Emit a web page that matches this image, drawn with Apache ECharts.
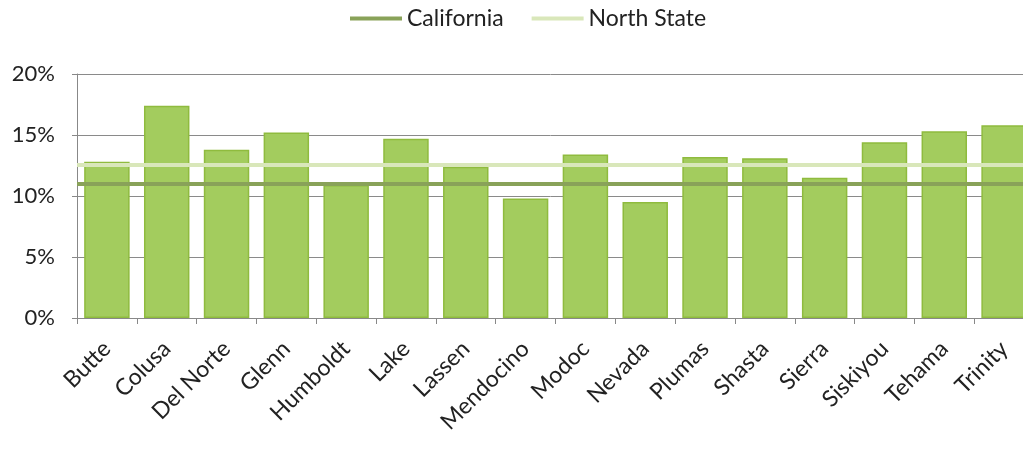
<!DOCTYPE html>
<html>
<head>
<meta charset="utf-8">
<script src="https://cdn.jsdelivr.net/npm/echarts@6/dist/echarts.min.js"></script>
<style>
  html, body { margin: 0; padding: 0; background: #fff; }
  #chart { width: 1023px; height: 449px; }
</style>
</head>
<body>
<div id="chart"></div>
<script>
// County rates across the North State, with reference lines for the state and region
const counties = ['Butte', 'Colusa', 'Del Norte', 'Glenn', 'Humboldt', 'Lake', 'Lassen', 'Mendocino',
  'Modoc', 'Nevada', 'Plumas', 'Shasta', 'Sierra', 'Siskiyou', 'Tehama', 'Trinity'];
const countyRates = [12.8, 17.4, 13.8, 15.2, 10.9, 14.7, 12.4, 9.8, 13.4, 9.5, 13.2, 13.1, 11.5, 14.4, 15.3, 15.8];
const californiaRate = 11.0;
const northStateRate = 12.6;
const yTicks = [0, 5, 10, 15, 20];

const FONT = 'Lato, "Open Sans", sans-serif';

const chart = echarts.init(document.getElementById('chart'), null, { renderer: 'canvas' });

function refLine(name, value, color) {
  return {
    name: name,
    type: 'line',
    data: [],
    symbol: 'none',
    lineStyle: { color: color, width: 4 },
    itemStyle: { color: color },
    markLine: {
      silent: true,
      symbol: 'none',
      label: { show: false },
      lineStyle: { color: color, width: 4, type: 'solid' },
      data: [{ yAxis: value }]
    },
    z: 5
  };
}

chart.setOption({
  animation: false,
  legend: {
    left: 345,
    top: 2,
    icon: 'rect',
    itemWidth: 52,
    itemHeight: 4,
    itemGap: 28,
    data: ['California', 'North State'],
    textStyle: { fontFamily: FONT, fontSize: 23, color: '#222' }
  },
  grid: { left: 77, top: 74, width: 957, height: 244, outerBoundsMode: 'none', containLabel: false },
  xAxis: {
    type: 'category',
    data: counties,
    axisLine: { lineStyle: { color: '#888', width: 1 } },
    axisTick: { show: true, length: 6, lineStyle: { color: '#888' } },
    axisLabel: {
      rotate: 45,
      interval: 0,
      margin: 27,
      fontFamily: FONT,
      fontSize: 23,
      color: '#222'
    }
  },
  yAxis: {
    type: 'value',
    min: yTicks[0],
    max: yTicks[yTicks.length - 1],
    interval: yTicks[1] - yTicks[0],
    axisLine: { show: true, lineStyle: { color: '#888' } },
    axisTick: { show: true, length: 5, lineStyle: { color: '#888' } },
    splitLine: { lineStyle: { color: '#8a8a8a', width: 1 } },
    axisLabel: {
      formatter: v => v + '%',
      margin: 22,
      fontFamily: FONT,
      fontSize: 22,
      color: '#222'
    }
  },
  series: [
    {
      name: 'County',
      type: 'bar',
      data: countyRates,
      barWidth: '76%',
      itemStyle: { color: '#a3cc5e', borderColor: '#8fbb3e', borderWidth: 1.5 },
      z: 2
    },
    refLine('California', californiaRate, '#89a259'),
    refLine('North State', northStateRate, '#d9e7ba')
  ]
});
</script>
</body>
</html>
